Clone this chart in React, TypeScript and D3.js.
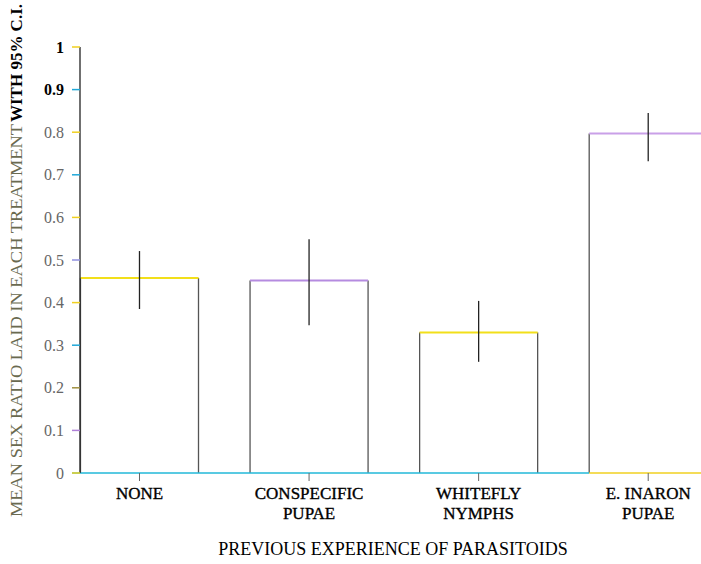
import React from "react";
import * as d3 from "d3";

const categories = ["NONE", "CONSPECIFIC\nPUPAE", "WHITEFLY\nNYMPHS", "E. INARON\nPUPAE"];
const means = [0.458, 0.452, 0.330, 0.797];
const ciLow = [0.385, 0.347, 0.261, 0.732];
const ciHigh = [0.521, 0.549, 0.404, 0.845];
const topColors = ["#f2df1a", "#b58be0", "#f2df1a", "#c9a0e8"];
const yTicks = [0, 0.1, 0.2, 0.3, 0.4, 0.5, 0.6, 0.7, 0.8, 0.9, 1];
const yTickLabels = ["0", "0.1", "0.2", "0.3", "0.4", "0.5", "0.6", "0.7", "0.8", "0.9", "1"];
const tickColors = ["#f0d020", "#b080d8", "#a09040", "#20a8d8", "#f0d020", "#9090e0", "#f0d020", "#20a8d8", "#f0d020", "#20a8d8", "#f0d020"];

const W = 701;
const H = 564;

export default function App() {
  const y = d3.scaleLinear().domain([0, 1]).range([473, 47]);
  const x = d3.scaleBand<string>().domain(categories).range([54.7, 733]).paddingInner(0.304).paddingOuter(0.152);
  const font = "'Liberation Serif', 'Times New Roman', serif";
  const axisX = 80;
  return (
    <svg width={W} height={H} style={{ position: "absolute", left: 0, top: 0, background: "#fff" }}>
      {/* bars */}
      {categories.map((c, i) => {
        const x0 = x(c)!;
        const bw = x.bandwidth();
        return (
          <g key={c}>
            <path d={`M${x0},${y(0)}V${y(means[i])}`} stroke="#555" strokeWidth={1.3} fill="none" />
            <path d={`M${x0 + bw},${y(0)}V${y(means[i])}`} stroke="#555" strokeWidth={1.3} fill="none" />
            <path d={`M${x0},${y(means[i])}H${x0 + bw}`} stroke={topColors[i]} strokeWidth={2} fill="none" />
            <path d={`M${x0 + bw / 2},${y(ciLow[i])}V${y(ciHigh[i])}`} stroke="#222" strokeWidth={1.3} fill="none" />
          </g>
        );
      })}
      {/* baseline */}
      <path d={`M72,${y(0)}H${x(categories[3])!}`} stroke="#22b8d8" strokeWidth={1.6} fill="none" />
      <path d={`M${x(categories[3])!},${y(0)}H${W}`} stroke="#f0d020" strokeWidth={1.6} fill="none" />
      {/* y axis */}
      <path d={`M${axisX},${y(0)}V${y(1)}`} stroke="#222" strokeWidth={1.3} fill="none" />
      {yTicks.map((t, i) => (
        <g key={t}>
          <path d={`M${axisX - 8},${y(t)}H${axisX}`} stroke={tickColors[i]} strokeWidth={1.5} />
          <text
            x={axisX - 16}
            y={y(t)}
            dy="0.35em"
            textAnchor="end"
            fontFamily={font}
            fontSize={16}
            fontWeight={i >= 9 ? "bold" : "normal"}
            fill={i >= 9 ? "#000" : "#666"}
          >
            {yTickLabels[i]}
          </text>
        </g>
      ))}
      {/* x ticks */}
      {categories.map((c) => {
        const cx = x(c)! + x.bandwidth() / 2;
        const lines = c.split("\n");
        return (
          <g key={c}>
            <path d={`M${cx},${y(0)}V${y(0) + 8}`} stroke="#666" strokeWidth={1} />
            {lines.map((l, j) => (
              <text key={j} x={cx} y={499 + j * 20} textAnchor="middle" fontFamily={font} fontSize={17} fill="#000" stroke="#000" strokeWidth={0.35}>
                {l}
              </text>
            ))}
          </g>
        );
      })}
      {/* x title */}
      <text x={393} y={555} textAnchor="middle" fontFamily={font} fontSize={18} fill="#000">
        PREVIOUS EXPERIENCE OF PARASITOIDS
      </text>
      {/* y title */}
      <g transform={`translate(22,517) rotate(-90)`}>
        <text x={0} y={0} fontFamily={font} fontSize={16} fill="#6a6a50" textLength={393} lengthAdjust="spacingAndGlyphs">
          MEAN SEX RATIO LAID IN EACH TREATMENT
        </text>
        <text x={395} y={0} fontFamily={font} fontSize={17} fontWeight="bold" fill="#000" textLength={118} lengthAdjust="spacingAndGlyphs">
          WITH 95% C.I.
        </text>
      </g>
    </svg>
  );
}
